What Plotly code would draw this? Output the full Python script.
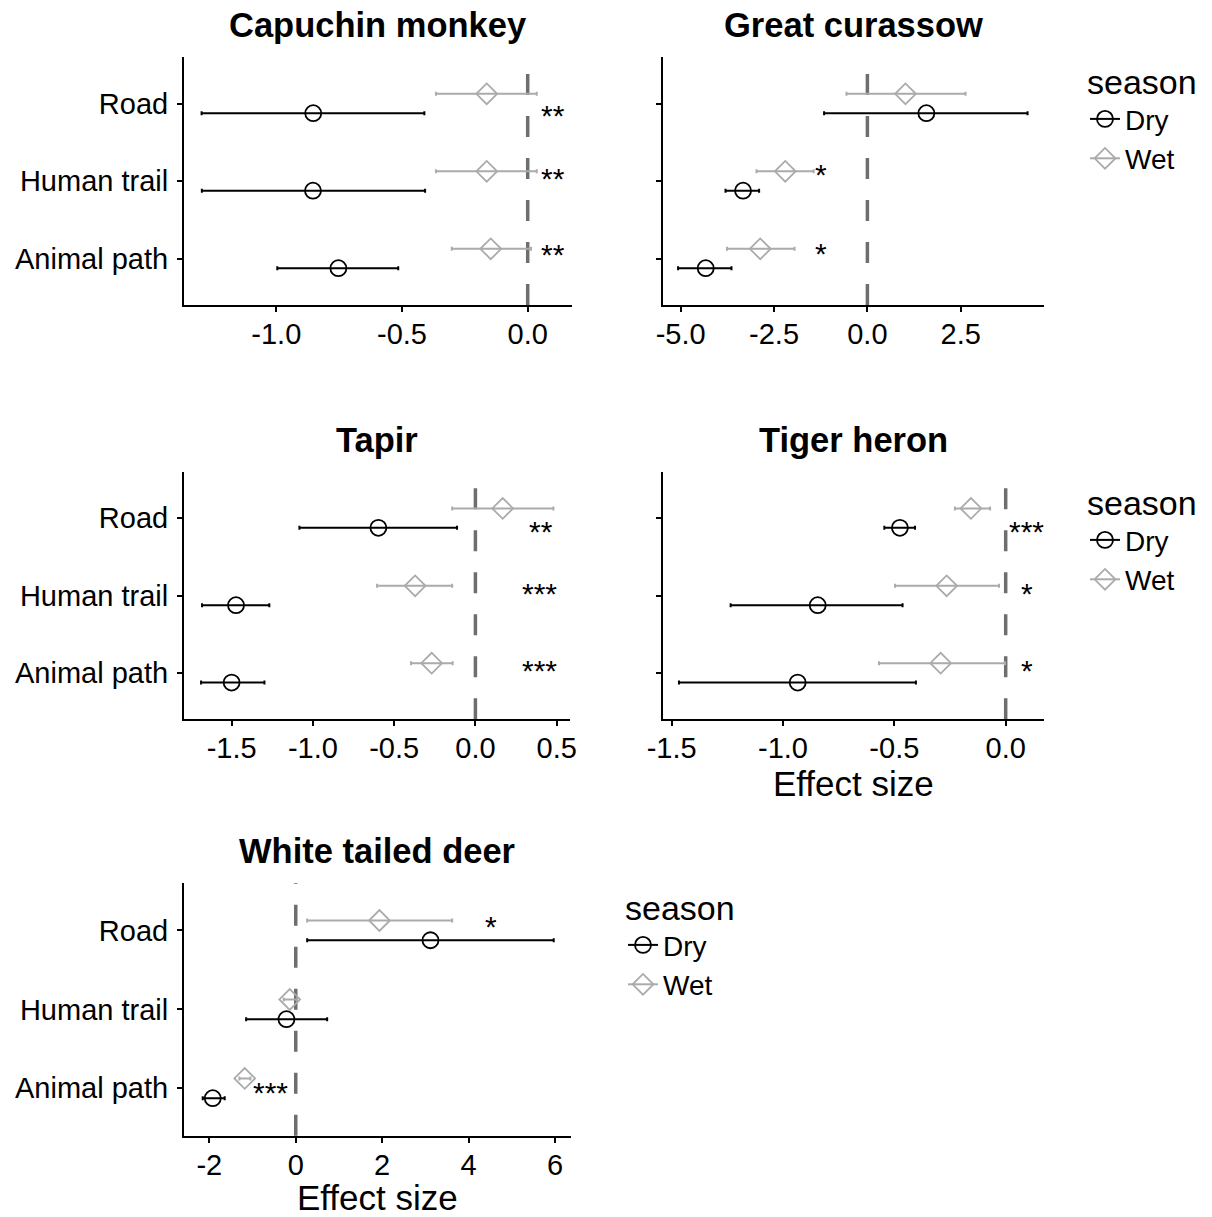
import plotly.graph_objects as go

# Crossing types, bottom to top on the y axis
categories = ["Animal path", "Human trail", "Road"]
seasons = ["Dry", "Wet"]

# Effect size estimates with lower / upper bounds, per species and season
capuchin_dry = [-0.753, -0.854, -0.853]
capuchin_dry_lo = [-0.996, -1.296, -1.297]
capuchin_dry_hi = [-0.515, -0.408, -0.411]
capuchin_wet = [-0.147, -0.163, -0.163]
capuchin_wet_lo = [-0.302, -0.365, -0.365]
capuchin_wet_hi = [0.013, 0.036, 0.036]
capuchin_stars = ["**", "**", "**"]

curassow_dry = [-4.33, -3.33, 1.58]
curassow_dry_lo = [-5.07, -3.80, -1.16]
curassow_dry_hi = [-3.64, -2.90, 4.29]
curassow_wet = [-2.87, -2.20, 1.02]
curassow_wet_lo = [-3.76, -2.97, -0.56]
curassow_wet_hi = [-1.95, -1.44, 2.63]
curassow_stars = ["*", "*", ""]

tapir_dry = [-1.50, -1.473, -0.597]
tapir_dry_lo = [-1.688, -1.682, -1.083]
tapir_dry_hi = [-1.298, -1.268, -0.113]
tapir_wet = [-0.269, -0.371, 0.168]
tapir_wet_lo = [-0.396, -0.605, -0.143]
tapir_wet_hi = [-0.140, -0.143, 0.480]
tapir_stars = ["***", "***", "**"]

heron_dry = [-0.934, -0.844, -0.475]
heron_dry_lo = [-1.467, -1.235, -0.545]
heron_dry_hi = [-0.403, -0.463, -0.407]
heron_wet = [-0.292, -0.265, -0.156]
heron_wet_lo = [-0.569, -0.497, -0.228]
heron_wet_hi = [-0.003, -0.030, -0.070]
heron_stars = ["*", "*", "***"]

deer_dry = [-1.921, -0.215, 3.118]
deer_dry_lo = [-2.153, -1.148, 0.264]
deer_dry_hi = [-1.644, 0.727, 5.970]
deer_wet = [-1.181, -0.139, 1.937]
deer_wet_lo = [-1.303, -0.278, 0.264]
deer_wet_hi = [-1.049, 0.032, 3.620]
deer_stars = ["***", "", "*"]

# Where the significance stars sit (x in effect size, y in category units)
capuchin_star_x = [0.10, 0.10, 0.10]
capuchin_star_y = [1.088, 2.077, 2.88]
curassow_star_x = [-1.23, -1.23, None]
curassow_star_y = [1.10, 2.12, None]
tapir_star_x = [0.394, 0.394, 0.404]
tapir_star_y = [1.07, 2.07, 2.87]
heron_star_x = [0.094, 0.094, 0.094]
heron_star_y = [1.07, 2.07, 2.87]
deer_star_x = [-0.586, None, 4.507]
deer_star_y = [0.98, None, 3.09]

FONT = "Liberation Sans, Arial, Helvetica, sans-serif"
W, H = 1212, 1217
DRY_COLOR = "black"
WET_COLOR = "#ababab"
DODGE = 0.125

panels = [
    dict(title="Capuchin monkey", dry=(capuchin_dry, capuchin_dry_lo, capuchin_dry_hi),
         wet=(capuchin_wet, capuchin_wet_lo, capuchin_wet_hi),
         stars=(capuchin_stars, capuchin_star_x, capuchin_star_y),
         box=(184, 571.7, 57, 305), xrange=[-1.367, 0.175],
         ticks=[-1.0, -0.5, 0.0], fmt=".1f", xtitle=None, ylabels=True),
    dict(title="Great curassow", dry=(curassow_dry, curassow_dry_lo, curassow_dry_hi),
         wet=(curassow_wet, curassow_wet_lo, curassow_wet_hi),
         stars=(curassow_stars, curassow_star_x, curassow_star_y),
         box=(662.7, 1044, 57, 305), xrange=[-5.482, 4.73],
         ticks=[-5.0, -2.5, 0.0, 2.5], fmt=".1f", xtitle=None, ylabels=False),
    dict(title="Tapir", dry=(tapir_dry, tapir_dry_lo, tapir_dry_hi),
         wet=(tapir_wet, tapir_wet_lo, tapir_wet_hi),
         stars=(tapir_stars, tapir_star_x, tapir_star_y),
         box=(184, 570, 471.7, 719.3), xrange=[-1.793, 0.582],
         ticks=[-1.5, -1.0, -0.5, 0.0, 0.5], fmt=".1f", xtitle=None, ylabels=True),
    dict(title="Tiger heron", dry=(heron_dry, heron_dry_lo, heron_dry_hi),
         wet=(heron_wet, heron_wet_lo, heron_wet_hi),
         stars=(heron_stars, heron_star_x, heron_star_y),
         box=(662.7, 1044, 471.7, 719.3), xrange=[-1.540, 0.172],
         ticks=[-1.5, -1.0, -0.5, 0.0], fmt=".1f", xtitle="Effect size", ylabels=False),
    dict(title="White tailed deer", dry=(deer_dry, deer_dry_lo, deer_dry_hi),
         wet=(deer_wet, deer_wet_lo, deer_wet_hi),
         stars=(deer_stars, deer_star_x, deer_star_y),
         box=(184, 570.7, 883, 1135.7), xrange=[-2.586, 6.363],
         ticks=[-2, 0, 2, 4, 6], fmt="d", xtitle="Effect size", ylabels=True),
]

fig = go.Figure()
layout = dict(
    template="none",
    width=W, height=H, margin=dict(l=0, r=0, t=0, b=0, pad=0, autoexpand=False),
    paper_bgcolor="white", plot_bgcolor="white",
    font=dict(family=FONT, color="black"),
    showlegend=True,
)
annotations = []
shapes = []

ypos = list(range(1, len(categories) + 1))

for i, p in enumerate(panels):
    n = "" if i == 0 else str(i + 1)
    xa, ya = "x" + n, "y" + n
    x0, x1, y0, y1 = p["box"]
    xdom = [x0 / W, x1 / W]
    ydom = [1 - y1 / H, 1 - y0 / H]
    axis_common = dict(showline=True, linecolor="black", linewidth=2, automargin=False,
                       ticks="outside", ticklen=5, tickwidth=2, tickcolor="black",
                       showgrid=False, zeroline=False,
                       tickfont=dict(family=FONT, size=29, color="black"))
    layout["xaxis" + n] = dict(domain=xdom, anchor=ya, range=p["xrange"],
                               tickmode="array", tickvals=p["ticks"], ticklabelstandoff=-3,
                               ticktext=[format(t, p["fmt"]) if p["fmt"] == ".1f" else str(t) for t in p["ticks"]],
                               **axis_common)
    if p["xtitle"]:
        layout["xaxis" + n]["title"] = dict(text=p["xtitle"], font=dict(family=FONT, size=35, color="black"),
                                           standoff=3)
    layout["yaxis" + n] = dict(domain=ydom, anchor=xa, range=[0.4, 3.6],
                               tickmode="array", tickvals=ypos, ticktext=categories,
                               showticklabels=p["ylabels"], ticklabelstandoff=3,
                               **axis_common)

    # reference line at zero effect
    shapes.append(dict(type="line", xref=xa, yref=ya + " domain", x0=0, x1=0, y0=0, y1=1,
                       line=dict(color="#6e6e6e", width=3.5, dash="21px,21px"), layer="below"))

    for season, (est, lo, hi), color, symbol, off in [
        ("Dry", p["dry"], DRY_COLOR, "circle-open", -DODGE),
        ("Wet", p["wet"], WET_COLOR, "diamond-open", DODGE),
    ]:
        fig.add_trace(go.Scatter(
            x=est, y=[v + off for v in ypos], xaxis=xa, yaxis=ya,
            mode="markers", showlegend=False, name=season,
            marker=dict(symbol=symbol, size=16, color=color, line=dict(width=1.8, color=color)),
            error_x=dict(type="data", symmetric=False,
                         array=[h - e for h, e in zip(hi, est)],
                         arrayminus=[e - l for e, l in zip(est, lo)],
                         color=color, thickness=2, width=2),
        ))

    # significance stars
    labels, sx, sy = p["stars"]
    for lab, xx, yy in zip(labels, sx, sy):
        if lab:
            annotations.append(dict(text=lab, x=xx, y=yy, xref=xa, yref=ya, showarrow=False,
                                    xanchor="center", yanchor="middle", yshift=-3,
                                    font=dict(family=FONT, size=30, color="black")))

    # panel title
    annotations.append(dict(text="<b>" + p["title"] + "</b>", x=(x0 + x1) / 2 / W,
                            y=1 - (y0 - 32) / H, xref="paper", yref="paper", showarrow=False,
                            xanchor="center", yanchor="middle",
                            font=dict(family=FONT, size=34.5, color="black")))

# legends, one per row of panels
legend_spots = [("legend", 1085, 50), ("legend2", 1085, 471), ("legend3", 623, 876)]
for key, lx, ly in legend_spots:
    layout[key] = dict(x=lx / W, y=1 - ly / H, xanchor="left", yanchor="top",
                       bgcolor="rgba(0,0,0,0)", itemwidth=30,
                       title=dict(text="season", font=dict(family=FONT, size=34, color="black")),
                       font=dict(family=FONT, size=28, color="black"))
    for season, color, symbol in [("Dry", DRY_COLOR, "circle-open"), ("Wet", WET_COLOR, "diamond-open")]:
        fig.add_trace(go.Scatter(
            x=[None], y=[None], mode="lines+markers", name=season, legend=key,
            marker=dict(symbol=symbol, size=16, color=color, line=dict(width=1.8, color=color)),
            line=dict(color=color, width=2),
        ))

layout["annotations"] = annotations
layout["shapes"] = shapes
fig.update_layout(**layout)
fig.write_html("out.html")
